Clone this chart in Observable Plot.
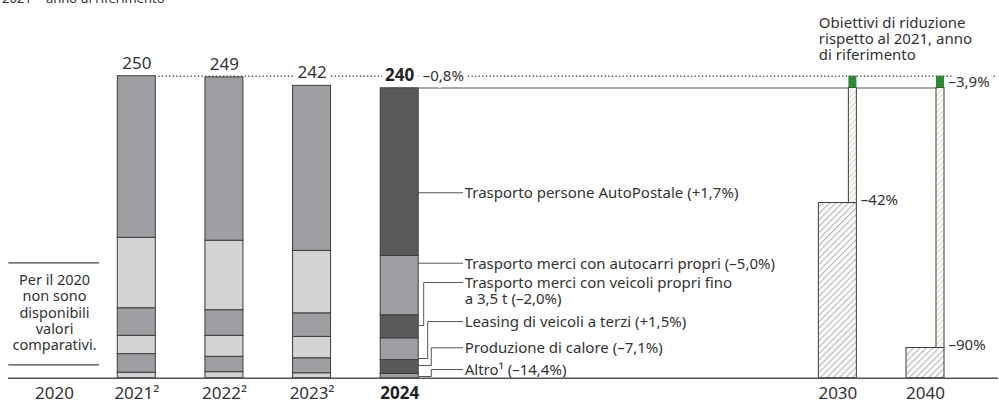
<!DOCTYPE html>
<html><head><meta charset="utf-8">
<script src="https://cdn.jsdelivr.net/npm/d3@7"></script>
<script src="https://cdn.jsdelivr.net/npm/@observablehq/plot@0.6"></script>
<style>
body{margin:0;background:#fff;font-family:"Noto Sans",sans-serif;color:#333}
#sub{height:7px;overflow:hidden;position:relative;width:999px}
#sub span{position:absolute;left:2px;top:-8.5px;font-size:13px;line-height:13px;white-space:nowrap}
</style></head><body>
<div id="sub"><span>2021 = anno di riferimento</span></div>
<div id="chart"></div>
<script>
// ---------------- DATA ----------------
const years = ["2021", "2022", "2023", "2024"];
const yearLabels = ["2021²", "2022²", "2023²", "2024"];
const noDataYear = "2020";
const categories = [
  "Altro¹",
  "Produzione di calore",
  "Leasing di veicoli a terzi",
  "Trasporto merci con veicoli propri fino\na 3,5 t",
  "Trasporto merci con autocarri propri",
  "Trasporto persone AutoPostale"
];
const changes = ["–14,4%", "–7,1%", "+1,5%", "–2,0%", "–5,0%", "+1,7%"];
const v2021 = [4.5, 15.4, 15.2, 22.8, 58.3, 133.8];
const v2022 = [5.0, 12.7, 17.4, 21.2, 57.5, 135.2];
const v2023 = [4.1, 12.4, 17.7, 19.5, 51.7, 136.6];
const v2024 = [3.5, 11.5, 18.0, 19.1, 49.1, 138.8];
const totals = [250, 249, 242, 240];
const change2024 = "–0,8%";
const baseValue = 250;
const achievedReduction = 3.9;
const achievedLabel = "–3,9%";
const targetYears = ["2030", "2040"];
const targetReductions = [42, 90];
const targetLabels = ["–42%", "–90%"];
const note2020 = "Per il 2020\nnon sono\ndisponibili\nvalori\ncomparativi.";
const targetNote = "Obiettivi di riduzione\nrispetto al 2021, anno\ndi riferimento";

// ---------------- LAYOUT ----------------
const W = 999, H = 400, T = 7;
const slotOrder = ["2020", "2021", "2022", "2023", "2024", "", "", "", "", "2030", "2040"];
const slot = y => slotOrder.indexOf(y);
const X0 = 136.3, X1 = 925;          // pixel centres of slots 1 and 10
const Y0 = 377.7 - T, Y250 = 75.7 - T;
const pxX = (X1 - X0) / 9;
const hw = 19 / pxX;                  // half bar width in slot units
const px = p => p / pxX;
const xAtPx = p => 1 + (p - X0) / pxX;
const vAtPx = p => (Y0 - (p - T)) / ((Y0 - Y250) / baseValue);
// leader layout (value units), bottom -> top
const labelAt = [7.2, 25.2, 46.9, 79.2, 95.2, 153.5];
const pointAt = [1.4, 10.5, 16.3, 43.6, 95.2, 153.5];
const elbowPx = [12.6, 12.6, 9, 5, 0, 0];

const LIGHT = "#d1d3d4", MID = "#9d9fa2", DARK = "#58595b", LINE = "#3d3d3d", TXT = "#333";
const GREEN = "#2e8a30";

// ---------------- DERIVED TABLES ----------------
const series = {"2021": v2021, "2022": v2022, "2023": v2023, "2024": v2024};
const stacked = years.flatMap(yr => {
  const vals = series[yr];
  const c = d3.cumsum(vals);
  return vals.map((v, i) => ({year: yr, i, cat: categories[i], y1: c[i] - v, y2: c[i]}));
});
const totalRows = years.map((yr, k) => ({year: yr, total: totals[k], label: yearLabels[k]}));
const targets = targetYears.map((yr, k) => ({
  year: yr, target: baseValue * (1 - targetReductions[k] / 100), label: targetLabels[k]
}));
const achievedLevel = baseValue * (1 - achievedReduction / 100);

const bx = slot("2024") + hw;
const tx = bx + px(44);
const leaders = categories.flatMap((c, i) => {
  const ex = bx + px(elbowPx[i]);
  return [
    {id: i, x: bx, y: pointAt[i]},
    {id: i, x: ex, y: pointAt[i]},
    {id: i, x: ex, y: labelAt[i]},
    {id: i, x: tx, y: labelAt[i]}
  ];
});
const legendRows = categories.map((c, i) => ({y: labelAt[i], text: `${c} (${changes[i]})`}));

const chart = Plot.plot({
  width: W, height: H,
  marginLeft: 8, marginRight: 1, marginTop: 0, marginBottom: 0,
  style: {fontFamily: "'Noto Sans', sans-serif", color: TXT, background: "white"},
  x: {type: "linear", domain: [1, 10], range: [X0, X1], axis: null},
  y: {domain: [0, baseValue], range: [Y0, Y250], axis: null},
  marks: [
    // dotted reference at base value
    Plot.ruleY([baseValue], {x1: () => slot("2021") + hw + px(3), x2: () => xAtPx(997), stroke: "#444", strokeWidth: 1.4, strokeDasharray: "1.2,2.4"}),
    // stacked bars
    Plot.rect(stacked, {
      x1: d => slot(d.year) - hw, x2: d => slot(d.year) + hw, y1: "y1", y2: "y2",
      fill: d => d.year === "2024" ? (d.i % 2 ? DARK : MID) : (d.i % 2 ? MID : LIGHT),
      stroke: LINE, strokeWidth: 1
    }),
    // solid line at current level
    Plot.ruleY([achievedLevel], {x1: () => slot("2024") + hw, x2: () => slot("2040") + hw, stroke: "#555", strokeWidth: 1.2}),
    // targets
    Plot.rect(targets, {x1: d => slot(d.year) - hw, x2: d => slot(d.year) + hw, y1: () => 0, y2: "target", fill: "url(#hatch-gray)", stroke: LINE, strokeWidth: 1}),
    Plot.rect(targets, {x1: d => slot(d.year) + hw - px(8), x2: d => slot(d.year) + hw, y1: "target", y2: () => achievedLevel, fill: "url(#hatch-green)", stroke: LINE, strokeWidth: 1}),
    Plot.rect(targets, {x1: d => slot(d.year) + hw - px(8), x2: d => slot(d.year) + hw, y1: () => achievedLevel, y2: () => baseValue, fill: GREEN}),
    Plot.text(targets, {x: d => slot(d.year) + hw + px(4), y: "target", text: "label", textAnchor: "start", lineAnchor: "bottom", dy: 1.5, fontSize: 15, fill: TXT}),
    Plot.text([achievedLabel], {x: () => slot("2040") + hw + px(4), y: () => (achievedLevel + baseValue) / 2, text: d => d, textAnchor: "start", lineAnchor: "middle", fontSize: 15, fill: TXT, stroke: "white", strokeWidth: 8, paintOrder: "stroke"}),
    // totals
    Plot.text(totalRows.slice(0, 3), {x: d => slot(d.year), y: "total", text: d => String(d.total), lineAnchor: "bottom", dy: -7.5, fontSize: 17, fill: TXT, stroke: "white", strokeWidth: 9, paintOrder: "stroke"}),
    Plot.text(totalRows.slice(3), {x: d => slot(d.year), y: "total", text: d => String(d.total), lineAnchor: "bottom", dy: -7.5, fontSize: 17, fontWeight: "bold", fill: "#222", stroke: "white", strokeWidth: 9, paintOrder: "stroke"}),
    Plot.text([change2024], {x: () => slot("2024") + hw + px(4), y: () => totals[3], text: d => d, textAnchor: "start", lineAnchor: "bottom", dy: -7.5, fontSize: 15, fill: TXT, stroke: "white", strokeWidth: 9, paintOrder: "stroke"}),
    // leaders + legend labels
    Plot.line(leaders, {x: "x", y: "y", z: "id", stroke: "#555", strokeWidth: 1, curve: "linear"}),
    Plot.text(legendRows, {x: () => tx + px(2), y: "y", text: "text", textAnchor: "start", lineAnchor: "top", dy: -5.8, lineHeight: 1.07, fontSize: 15, fill: TXT}),
    // 2020 note
    Plot.ruleY([vAtPx(262.3), vAtPx(364.3)], {x1: () => xAtPx(8.3), x2: () => xAtPx(99), stroke: "#444", strokeWidth: 1.2}),
    Plot.text([note2020], {x: () => xAtPx(54), y: () => vAtPx(312), text: d => d, textAnchor: "middle", lineAnchor: "middle", lineHeight: 1.12, fontSize: 14.5, fill: TXT}),
    // target note
    Plot.text([targetNote], {x: () => slot("2030") - hw, y: () => baseValue, text: d => d, textAnchor: "start", lineAnchor: "bottom", dy: -16, lineHeight: 1.07, fontSize: 15, fill: TXT}),
    // baseline
    Plot.ruleY([0], {stroke: "#555", strokeWidth: 1.6}),
    // category labels
    Plot.text([noDataYear], {x: () => xAtPx(54), y: () => 0, text: d => d, lineAnchor: "bottom", dy: 20.6, fontSize: 17, fill: TXT}),
    Plot.text(totalRows.slice(0, 3), {x: d => slot(d.year), y: () => 0, text: "label", lineAnchor: "bottom", dy: 20.6, fontSize: 17, fill: TXT}),
    Plot.text(totalRows.slice(3), {x: d => slot(d.year), y: () => 0, text: "label", lineAnchor: "bottom", dy: 20.6, fontSize: 17, fontWeight: "bold", fill: "#222"}),
    Plot.text(targets, {x: d => slot(d.year), y: () => 0, text: "year", lineAnchor: "bottom", dy: 20.6, fontSize: 17, fill: TXT})
  ]
});

// hatch patterns
const ns = "http://www.w3.org/2000/svg";
const defs = document.createElementNS(ns, "defs");
defs.innerHTML = `
<pattern id="hatch-gray" patternUnits="userSpaceOnUse" width="4.5" height="4.5" patternTransform="rotate(45)">
  <rect width="4.5" height="4.5" fill="#ffffff"/><line x1="0" y1="0" x2="0" y2="4.5" stroke="#b5b5b5" stroke-width="2.2"/>
</pattern>
<pattern id="hatch-green" patternUnits="userSpaceOnUse" width="4" height="4" patternTransform="rotate(45)">
  <rect width="4" height="4" fill="#ffffff"/><line x1="0" y1="0" x2="0" y2="4" stroke="#c8e2c0" stroke-width="2"/>
</pattern>`;
chart.insertBefore(defs, chart.firstChild);
document.getElementById("chart").appendChild(chart);
</script>
</body></html>
